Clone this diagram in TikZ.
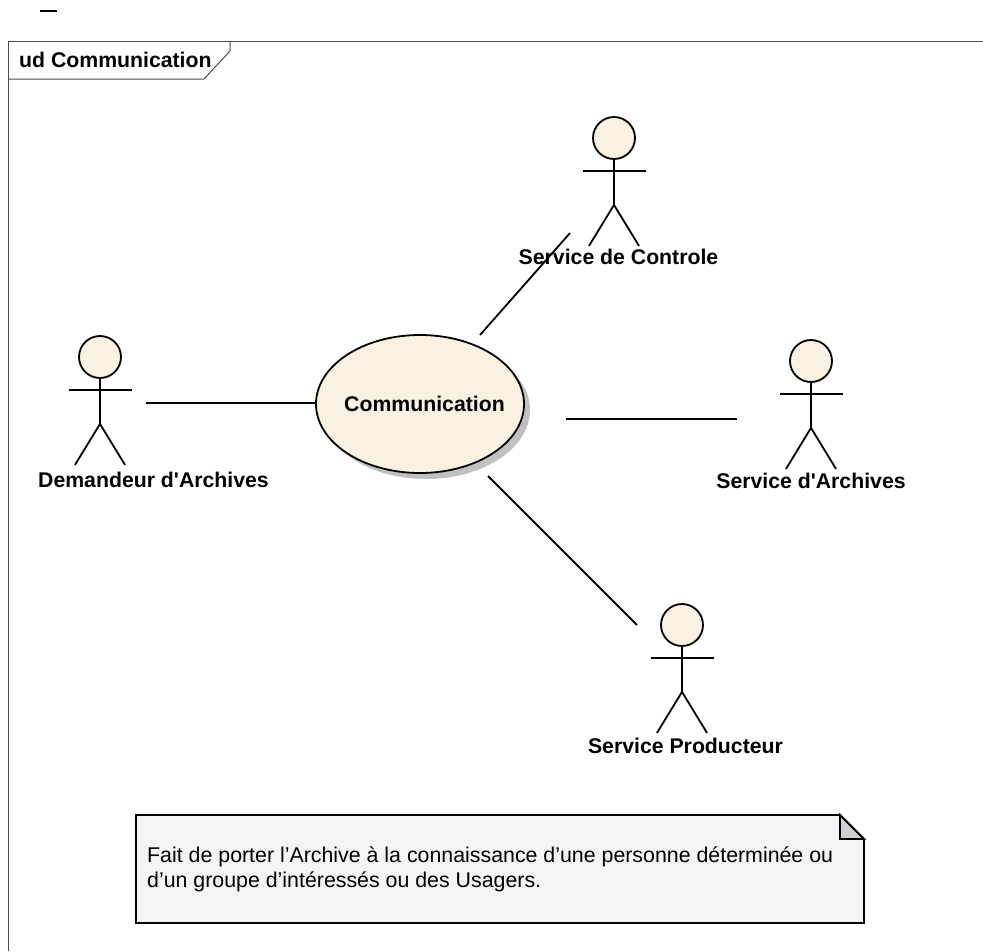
\documentclass[tikz,border=0pt]{standalone}
\usepackage{fontspec}
\newfontfamily\diagfont{Liberation Sans}
\usetikzlibrary{shapes.geometric}
\definecolor{umlfill}{HTML}{FBF1E3}
\definecolor{notefill}{HTML}{F6F3F7}
\definecolor{foldfill}{HTML}{D2CFD4}
\definecolor{shadowgray}{HTML}{C0C0C0}
\tikzset{
  x=1pt,y=-1pt,
  stroke/.style={draw=black,line width=1.8pt},
  thinframe/.style={draw=black!70,line width=1pt},
  actorhead/.style={circle,stroke,fill=umlfill,minimum size=42pt,inner sep=0pt},
  boldtext/.style={font=\diagfont\fontsize{21.25}{24}\selectfont\bfseries,inner sep=0pt},
  actorname/.style={boldtext,anchor=base},
  usecase/.style={stroke,fill=umlfill},
  notetext/.style={font=\diagfont\fontsize{21.35}{24.8}\selectfont,inner sep=0pt,anchor=north west,align=left},
}
\newcommand{\actorfig}[3]{% name, x, y of head centre
  \node[actorhead] (#1) at (#2,#3) {};
  \draw[stroke] (#1.south) -- ++(0,45) coordinate (#1hip);
  \draw[stroke] ([xshift=-31.5pt,yshift=-11pt]#1.south) -- ([xshift=32pt,yshift=-11pt]#1.south);
  \draw[stroke] (#1hip) -- ++(-25,41);
  \draw[stroke] (#1hip) -- ++(25,41);
}
\begin{document}
\begin{tikzpicture}
\useasboundingbox (0,0) rectangle (983,951);
\fill[white] (0,0) rectangle (983,951);
% stray dash
\coordinate (dashL) at (40,11);
\coordinate (dashR) at (57,11);
\draw[stroke] (dashL) -- (dashR);
% frame
\draw[thinframe] (983,41) -- (8,41) -- (8,951);
\draw[thinframe] (230,41) -- (230,51) -- (204,79) -- (8,79);
\node[boldtext,anchor=base west] (frametitle) at (19,67) {ud Communication};
% use case
\fill[shadowgray] (426,410) ellipse [x radius=104,y radius=69];
\draw[usecase] (420,404) ellipse [x radius=104,y radius=69];
\node[boldtext] (uc) at (424.5,404) {Communication};
% actors
\actorfig{ctrl}{614}{138}
\node[actorname] (ctrlname) at (618.5,264.5) {Service de Controle};
\actorfig{dem}{100}{357}
\node[actorname] (demname) at (153.5,487.5) {Demandeur d'Archives};
\actorfig{arch}{811}{361}
\node[actorname] (archname) at (811,488) {Service d'Archives};
\actorfig{prod}{682}{625}
\node[actorname] (prodname) at (685.5,753) {Service Producteur};
% connector free ends
\coordinate (c1a) at (480,335); \coordinate (c1b) at (570,233);
\coordinate (c2a) at (146,403); \coordinate (c2b) at (316,403);
\coordinate (c3a) at (566,419); \coordinate (c3b) at (737,419);
\coordinate (c4a) at (488,476); \coordinate (c4b) at (637,625);
\draw[stroke] (c1a) -- (c1b);
\draw[stroke] (c2a) -- (c2b);
\draw[stroke] (c3a) -- (c3b);
\draw[stroke] (c4a) -- (c4b);
% note
\draw[stroke,fill=notefill] (136,815) -- (840,815) -- (864,839) -- (864,923) -- (136,923) -- cycle;
\draw[stroke,fill=foldfill] (840,815) -- (864,839) -- (840,839) -- cycle;
\node[notetext] (note) at (147,846.5) {Fait de porter l’Archive à la connaissance d’une personne déterminée ou\\d’un groupe d’intéressés ou des Usagers.};
\end{tikzpicture}
\end{document}
